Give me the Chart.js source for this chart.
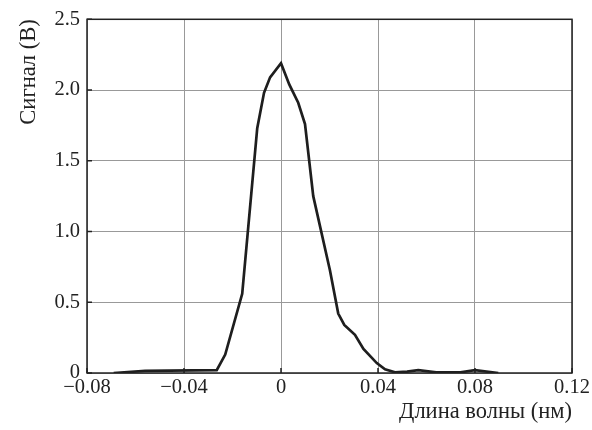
<html>
<head>
<style>
  body { margin: 0; background: #fff; }
</style>
</head>
<body>
    <canvas id="myChart" width="592" height="430"></canvas>
</body>
<script type="text/javascript" src="https://cdn.jsdelivr.net/npm/chart.js@4.4.0/dist/chart.umd.min.js"></script>
<script>
// wavelength offset (nm) and signal (V)
var wavelength = [-0.069, -0.056, -0.0265, -0.023, -0.016, -0.0098, -0.007, -0.0045, 0, 0.0034, 0.0071, 0.0099, 0.0133, 0.0202, 0.0236, 0.0261, 0.0305, 0.034, 0.0395, 0.0429, 0.047, 0.052, 0.0566, 0.064, 0.074, 0.08, 0.0896];
var signal = [0, 0.015, 0.02, 0.13, 0.56, 1.73, 1.98, 2.09, 2.19, 2.04, 1.91, 1.76, 1.25, 0.725, 0.42, 0.34, 0.27, 0.17, 0.07, 0.026, 0.005, 0.01, 0.02, 0.005, 0.005, 0.02, 0.0];

var xTickValues = [-0.08, -0.04, 0, 0.04, 0.08, 0.12];
var xTickLabels = ['\u22120.08', '\u22120.04', '0', '0.04', '0.08', '0.12'];
var yTickValues = [0, 0.5, 1.0, 1.5, 2.0, 2.5];
var yTickLabels = ['0', '0.5', '1.0', '1.5', '2.0', '2.5'];

function getPoints() {
    var pts = [];
    for (var i = 0; i < wavelength.length; i++) {
        pts.push({x: wavelength[i], y: signal[i]});
    }
    return pts;
}

var tickFont = {family: 'Liberation Serif', size: 20.5};
var titleFont = {family: 'Liberation Serif', size: 22.5};

// frame around the plot plus short inward ticks
var framePlugin = {
    id: 'frame',
    afterDraw: function(chart) {
        var ctx = chart.ctx;
        var a = chart.chartArea;
        var xs = chart.scales.x, ys = chart.scales.y;
        ctx.save();
        ctx.strokeStyle = '#222';
        ctx.lineWidth = 1.5;
        ctx.strokeRect(a.left, a.top, a.right - a.left, a.bottom - a.top);
        ctx.beginPath();
        xTickValues.forEach(function(v) {
            var px = xs.getPixelForValue(v);
            ctx.moveTo(px, a.bottom);
            ctx.lineTo(px, a.bottom - 5);
        });
        yTickValues.forEach(function(v) {
            var py = ys.getPixelForValue(v);
            ctx.moveTo(a.left, py);
            ctx.lineTo(a.left + 5, py);
        });
        ctx.stroke();
        ctx.restore();
    }
};

var ctx = document.getElementById('myChart').getContext('2d');
var chart = new Chart(ctx, {
    type: 'scatter',
    data: {
        datasets: [{
            data: getPoints(),
            showLine: true,
            borderColor: '#1e1e1e',
            borderWidth: 2.7,
            pointRadius: 0,
            tension: 0
        }]
    },
    options: {
        responsive: false,
        animation: false,
        layout: {padding: {top: 18, right: 20, left: 0, bottom: 0}},
        plugins: {legend: {display: false}, tooltip: {enabled: false}},
        scales: {
            x: {
                type: 'linear',
                min: -0.08,
                max: 0.12,
                afterBuildTicks: function(scale) {
                    scale.ticks = xTickValues.map(function(v) { return {value: v}; });
                },
                afterFit: function(scale) { scale.height = 57; },
                ticks: {
                    color: '#222',
                    font: tickFont,
                    padding: 2,
                    maxRotation: 0,
                    callback: function(v, i) { return xTickLabels[i]; }
                },
                grid: {color: '#999', lineWidth: 1, drawTicks: false},
                border: {display: false},
                title: {
                    display: true,
                    text: 'Длина волны (нм)',
                    align: 'end',
                    color: '#222',
                    font: titleFont,
                    padding: {top: 0, bottom: 4}
                }
            },
            y: {
                min: 0,
                max: 2.5,
                afterBuildTicks: function(scale) {
                    scale.ticks = yTickValues.map(function(v) { return {value: v}; });
                },
                afterFit: function(scale) { scale.width = 87; },
                ticks: {
                    color: '#222',
                    font: tickFont,
                    padding: 7,
                    callback: function(v, i) { return yTickLabels[i]; }
                },
                grid: {color: '#999', lineWidth: 1, drawTicks: false},
                border: {display: false},
                title: {
                    display: true,
                    text: 'Сигнал (В)',
                    align: 'end',
                    color: '#222',
                    font: titleFont,
                    padding: {top: 16, bottom: 0}
                }
            }
        }
    },
    plugins: [framePlugin]
});
</script>
</html>
